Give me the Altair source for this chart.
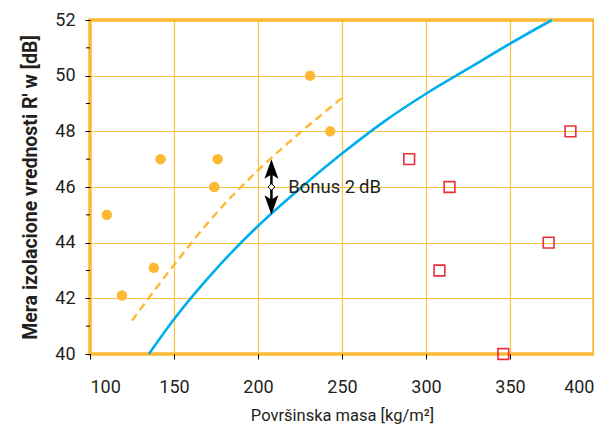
import altair as alt
import pandas as pd

# Measured points (orange circles)
circ_x = [110, 119, 138, 142, 174, 176, 231, 243]
circ_y = [45.0, 42.1, 43.1, 47.0, 46.0, 47.0, 50.0, 48.0]

# Measured points (red squares)
sq_x = [290, 308, 314, 346, 373, 386]
sq_y = [47.0, 43.0, 46.0, 40.0, 44.0, 48.0]

# Reference curve (blue)
ref_x = [135, 150, 175, 200, 225, 250, 275, 300, 325, 350, 375]
ref_y = [40.0, 41.25, 43.05, 44.6, 45.95, 47.2, 48.35, 49.35, 50.25, 51.15, 52.0]

# Dashed curve (orange)
dash_x = [125, 150, 175, 200, 225, 250]
dash_y = [41.2, 43.2, 45.05, 46.6, 47.95, 49.2]

# Bonus arrow
arrow_x = [208]
arrow_mid = [46.0]
bonus_label = ["Bonus 2\u2009dB"]
bonus_x = [218]

minor_y = [41, 43, 45, 47, 49, 51]

ORANGE = "#FDB933"
BLUE = "#00AEEF"
RED = "#E8303A"
INK = "#231F20"

xs = alt.Scale(domain=[100, 400], nice=False, zero=False)
ys = alt.Scale(domain=[40, 52], nice=False, zero=False)

circ = pd.DataFrame({"x": circ_x, "y": circ_y})
sq = pd.DataFrame({"x": sq_x, "y": sq_y})
ref = pd.DataFrame({"x": ref_x, "y": ref_y})
dash = pd.DataFrame({"x": dash_x, "y": dash_y})
arr = pd.DataFrame({"x": arrow_x, "mid": arrow_mid})
lab = pd.DataFrame({"x": bonus_x, "y": arrow_mid, "t": bonus_label})
minor = pd.DataFrame({"y": minor_y})

X = alt.X("x:Q", scale=xs, title="Površinska masa [kg/m²]",
          axis=alt.Axis(values=[100, 150, 200, 250, 300, 350, 400]))
Y = alt.Y("y:Q", scale=ys, title="Mera izolacione vrednosti R' w [dB]",
          axis=alt.Axis(values=[40, 42, 44, 46, 48, 50, 52]))

base_ref = alt.Chart(ref).mark_line(color=BLUE, strokeWidth=2.6, interpolate="monotone").encode(x=X, y=Y)
dash_l = alt.Chart(dash).mark_line(color=ORANGE, strokeWidth=2.4, strokeDash=[8, 5], interpolate="monotone").encode(
    x=alt.X("x:Q", scale=xs), y=alt.Y("y:Q", scale=ys))
circ_l = alt.Chart(circ).mark_point(shape="circle", filled=True, color=ORANGE, size=110, opacity=1).encode(
    x=alt.X("x:Q", scale=xs), y=alt.Y("y:Q", scale=ys))
sq_l = alt.Chart(sq).mark_point(shape="square", filled=False, color=RED, size=115, strokeWidth=1.6, opacity=1).encode(
    x=alt.X("x:Q", scale=xs), y=alt.Y("y:Q", scale=ys))

arrow_path = ("M0,-1 L0.25,-0.3 L0.045,-0.42 L0.045,0.42 L0.25,0.3 L0,1 "
              "L-0.25,0.3 L-0.045,0.42 L-0.045,-0.42 L-0.25,-0.3 Z")
arrow_l = alt.Chart(arr).mark_point(shape=arrow_path, filled=True, color="black", size=3100, opacity=1).encode(
    x=alt.X("x:Q", scale=xs), y=alt.Y("mid:Q", scale=ys))
diamond_l = alt.Chart(arr).mark_point(shape="diamond", filled=True, fill="white", stroke="black",
                                      strokeWidth=1, size=45, opacity=1).encode(
    x=alt.X("x:Q", scale=xs), y=alt.Y("mid:Q", scale=ys))
text_l = alt.Chart(lab).mark_text(align="left", baseline="middle", fontSize=18.5, color=INK,
                                  font="Roboto").encode(
    x=alt.X("x:Q", scale=xs), y=alt.Y("y:Q", scale=ys), text="t:N")
minor_l = alt.Chart(minor).mark_rule(color="black", strokeWidth=1).encode(
    y=alt.Y("y:Q", scale=ys), x=alt.value(-4), x2=alt.value(0))

chart = alt.layer(base_ref, dash_l, circ_l, sq_l, arrow_l, diamond_l, text_l, minor_l).properties(
    width=504, height=334,
    autosize=alt.AutoSizeParams(type="none"),
    padding={"left": 82, "top": 12, "right": 0, "bottom": 70},
).configure_view(
    stroke=ORANGE, strokeWidth=3.5
).configure_axis(
    domain=False, grid=True, gridColor=ORANGE, gridWidth=1.2, gridOpacity=0.9,
    tickColor="black", tickSize=5, tickWidth=1,
    labelFont="Roboto", titleFont="Roboto", labelColor=INK, titleColor=INK,
).configure_axisX(
    labelFontSize=18, labelPadding=19, titleFontSize=16.5, titleFontWeight="normal", titlePadding=11,
).configure_axisY(
    labelFontSize=18, labelPadding=10, titleFontSize=19.5, titleFontWeight="bold", titlePadding=14,
)

chart.save("out.html", embed_options={"renderer": "svg", "actions": False})
